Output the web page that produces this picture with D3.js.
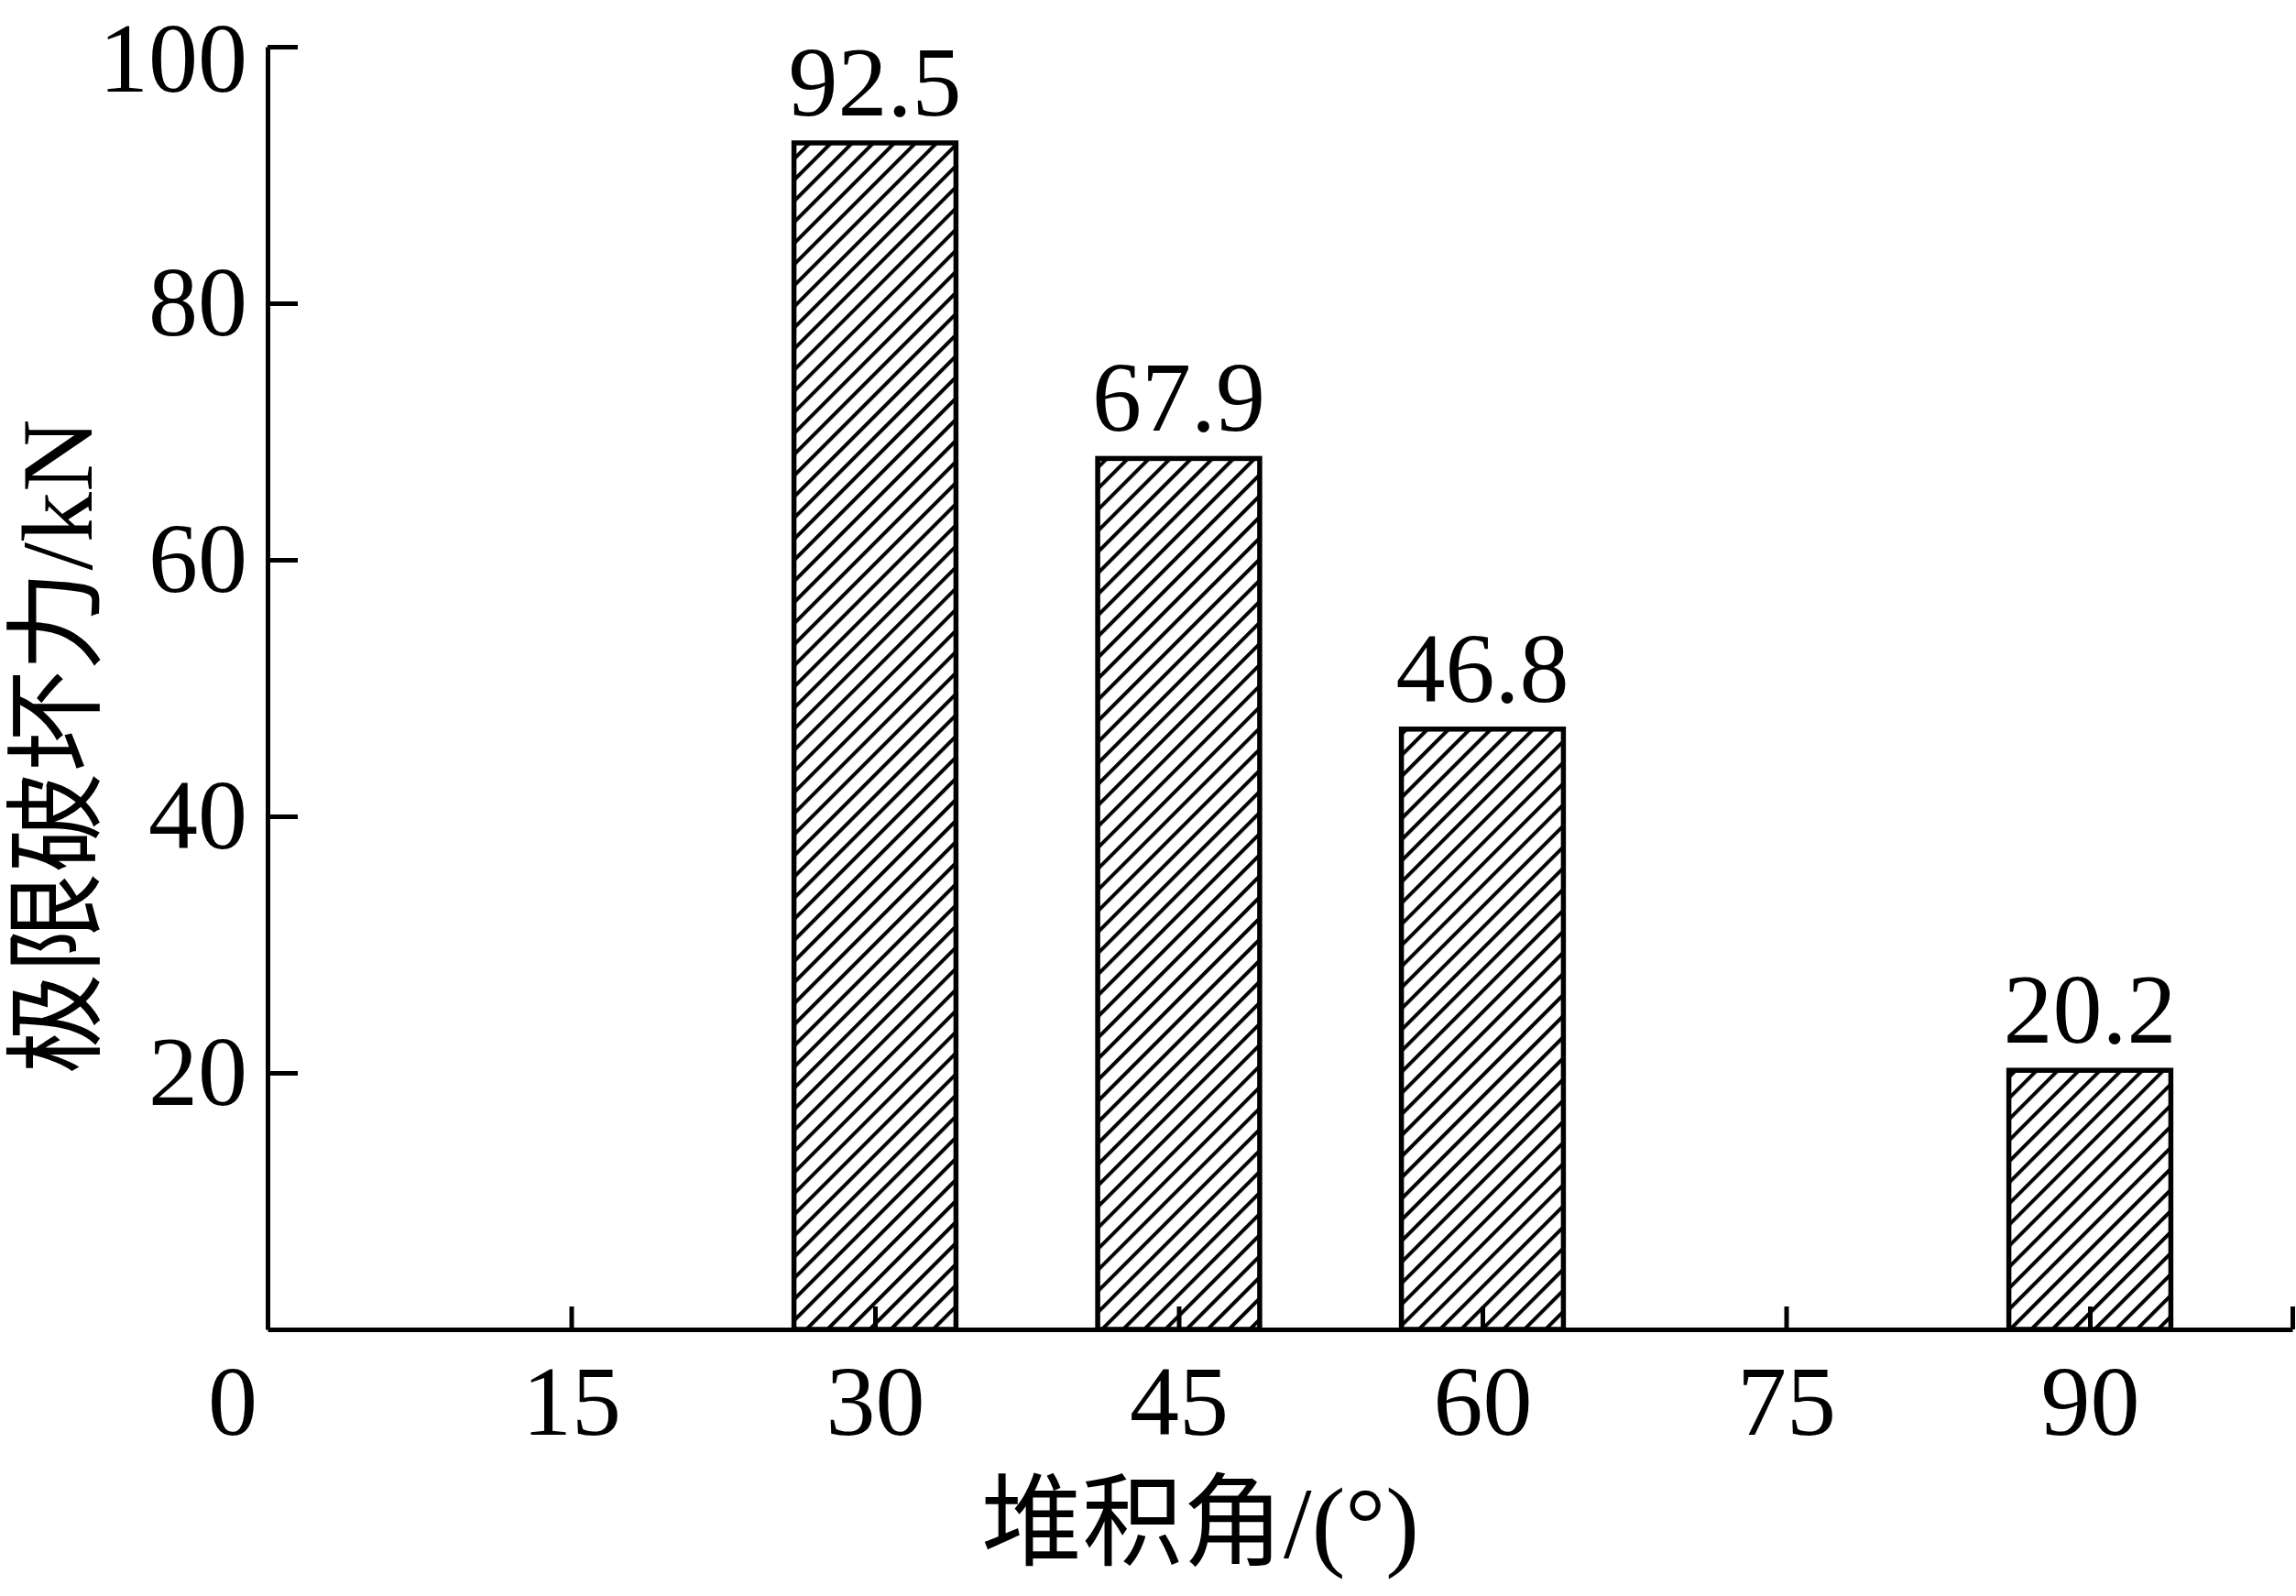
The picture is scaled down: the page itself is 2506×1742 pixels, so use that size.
<!DOCTYPE html>
<html>
<head>
<meta charset="utf-8">
<script src="https://cdn.jsdelivr.net/npm/d3@7"></script>
<style>
  body { margin: 0; background: #fff; }
  text { font-family: "Liberation Serif", "Noto Sans CJK SC", serif; fill: #000; }
</style>
</head>
<body>
<script>
// data
const angles = [30, 45, 60, 90];
const loads = [92.5, 67.9, 46.8, 20.2];
const xTicks = [15, 30, 45, 60, 75, 90, 100];
const xTickLabels = ["15", "30", "45", "60", "75", "90", ""];
const yTicks = [20, 40, 60, 80, 100];

const width = 2506, height = 1742;
const fontSize = 108;

const svg = d3.select("body").append("svg")
  .attr("width", width)
  .attr("height", height);

const x = d3.scaleLinear().domain([0, 100]).range([292, 2502]);
const y = d3.scaleLinear().domain([0, 100]).range([1451, 51]);
const barW = x(8) - x(0);

const defs = svg.append("defs");
defs.append("pattern")
  .attr("id", "hatch")
  .attr("patternUnits", "userSpaceOnUse")
  .attr("width", 16.3)
  .attr("height", 16.3)
  .attr("patternTransform", "rotate(45)")
  .append("line")
    .attr("x1", 0).attr("y1", -2)
    .attr("x2", 0).attr("y2", 20)
    .attr("stroke", "#000")
    .attr("stroke-width", 8);

// bars
svg.selectAll(".bar")
  .data(angles)
  .enter()
  .append("rect")
  .attr("class", "bar")
  .attr("x", d => x(d) - barW / 2)
  .attr("y", (d, i) => y(loads[i]))
  .attr("width", barW)
  .attr("height", (d, i) => y(0) - y(loads[i]))
  .attr("fill", "url(#hatch)")
  .attr("stroke", "#000")
  .attr("stroke-width", 5.5);

// value labels
svg.selectAll(".val")
  .data(angles)
  .enter()
  .append("text")
  .attr("class", "val")
  .attr("x", d => x(d))
  .attr("y", (d, i) => y(loads[i]) - 30)
  .attr("text-anchor", "middle")
  .style("font-size", fontSize + "px")
  .text((d, i) => loads[i].toFixed(1));

// axes
const xAxis = svg.append("g")
  .attr("transform", `translate(0,${y(0)})`)
  .call(d3.axisBottom(x)
    .tickValues(xTicks)
    .tickFormat((d, i) => xTickLabels[i])
    .tickSize(-25)
    .tickSizeOuter(0)
    .tickPadding(38));

const yAxis = svg.append("g")
  .attr("transform", `translate(${x(0)},0)`)
  .call(d3.axisLeft(y)
    .tickValues(yTicks)
    .tickSize(-33)
    .tickSizeOuter(0)
    .tickPadding(22));

[xAxis, yAxis].forEach(g => {
  g.selectAll("path, line").attr("stroke", "#000").attr("stroke-width", 5);
  g.selectAll("text")
    .style("font-size", fontSize + "px")
    .style("font-family", "'Liberation Serif', serif")
    .attr("fill", "#000");
});

// top label sits a little lower so it stays inside the picture
yAxis.selectAll(".tick text")
  .filter(d => d === 100)
  .attr("dy", "0.45em");

// origin label
svg.append("text")
  .attr("x", 254)
  .attr("y", y(0) + 38)
  .attr("dy", "0.71em")
  .attr("text-anchor", "middle")
  .style("font-size", fontSize + "px")
  .text("0");

// axis titles
svg.append("text")
  .attr("x", 1310)
  .attr("y", 1700)
  .attr("text-anchor", "middle")
  .style("font-size", "110px")
  .text("堆积角/(°)");

svg.append("text")
  .attr("transform", "translate(100,815) rotate(-90)")
  .attr("text-anchor", "middle")
  .style("font-size", "110px")
  .text("极限破坏力/kN");
</script>
</body>
</html>
